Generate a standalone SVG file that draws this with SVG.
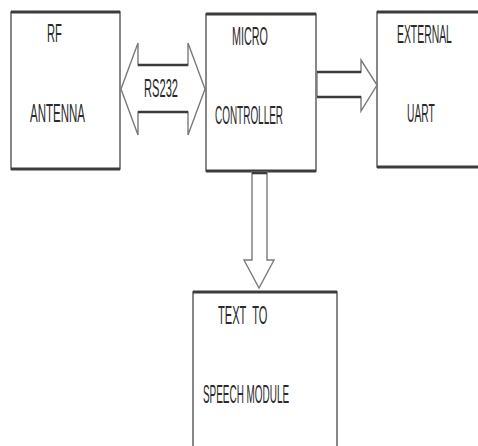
<svg xmlns="http://www.w3.org/2000/svg" width="478" height="446" viewBox="0 0 478 446">
  <style>
    .box { fill: #ffffff; stroke: #6a6a6a; stroke-width: 1.6; }
    .edge { stroke: #3c3c3c; stroke-width: 3; fill: none; }
    .arrow { fill: #ffffff; stroke: #7a7a7a; stroke-width: 1.4; stroke-linejoin: miter; }
    .shaft { stroke: #3c3c3c; stroke-width: 2.6; fill: none; }
    .label { font-family: "Liberation Sans", Arial, sans-serif; font-size: 26px; fill: #2a2a2a; }
  </style>
  <rect width="478" height="446" fill="#ffffff"/>

  <!-- RF antenna block -->
  <g id="rf-antenna">
    <rect class="box" x="11" y="12" width="109" height="157"/>
    <line class="edge" x1="11" y1="12" x2="120" y2="12"/>
    <line class="edge" x1="11" y1="169" x2="120" y2="169"/>
    <text class="label" transform="translate(47,42) scale(0.43,1)">RF</text>
    <text class="label" transform="translate(30,122) scale(0.443,1)">ANTENNA</text>
  </g>

  <!-- Microcontroller block -->
  <g id="micro-controller">
    <rect class="box" x="206" y="14" width="110" height="157"/>
    <line class="edge" x1="206" y1="14" x2="316" y2="14"/>
    <line class="edge" x1="206" y1="171" x2="316" y2="171"/>
    <text class="label" transform="translate(232,45) scale(0.415,1)">MICRO</text>
    <text class="label" transform="translate(215,124) scale(0.383,1)">CONTROLLER</text>
  </g>

  <!-- External UART block -->
  <g id="external-uart">
    <rect class="box" x="377" y="12" width="110" height="155"/>
    <line class="edge" x1="377" y1="12" x2="480" y2="12"/>
    <line class="edge" x1="377" y1="167" x2="480" y2="167"/>
    <text class="label" transform="translate(397,43) scale(0.40,1)">EXTERNAL</text>
    <text class="label" transform="translate(407,122) scale(0.395,1)">UART</text>
  </g>

  <!-- Text to speech block -->
  <g id="text-to-speech">
    <rect class="box" x="193" y="292" width="144" height="170"/>
    <line class="edge" x1="193" y1="292" x2="337" y2="292"/>
    <text class="label" transform="translate(218,324) scale(0.427,1)" xml:space="preserve">TEXT  TO</text>
    <text class="label" transform="translate(203,403) scale(0.382,1)">SPEECH MODULE</text>
  </g>

  <!-- Block arrows -->
  <g id="connectors">
    <g id="rs232-link">
      <polygon class="arrow" points="121,89 138,43 138,65 188,65 188,43 205,89 188,135 188,112 138,112 138,135"/>
      <line class="shaft" x1="138" y1="65" x2="188" y2="65"/>
      <line class="shaft" x1="138" y1="112" x2="188" y2="112"/>
      <text class="label" transform="translate(144,97) scale(0.428,1)">RS232</text>
    </g>
    <g id="to-uart">
      <polygon class="arrow" points="317,72 361,72 361,60 377,85 361,111 361,97 317,97"/>
      <line class="shaft" x1="317" y1="72" x2="361" y2="72"/>
      <line class="shaft" x1="317" y1="97" x2="361" y2="97"/>
    </g>
    <g id="to-speech">
      <polygon class="arrow" points="252,172 267,172 267,260 274,260 259,288 244,260 252,260"/>
      <line class="shaft" x1="252" y1="173" x2="267" y2="173"/>
    </g>
  </g>
</svg>
